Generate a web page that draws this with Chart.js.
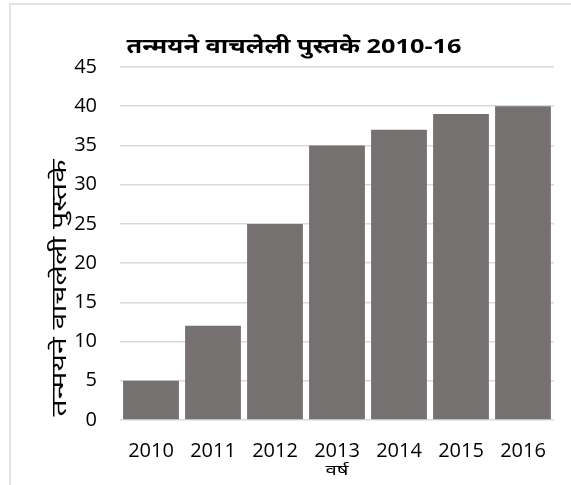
<!DOCTYPE html>
<html>
<head>
<meta charset="utf-8">
<script src="https://cdn.jsdelivr.net/npm/chart.js@4/dist/chart.umd.min.js"></script>
<style>
  html, body { margin: 0; padding: 0; background: #ffffff; }
  #wrap { width: 571px; height: 485px; }
</style>
</head>
<body>
<div id="wrap"><canvas id="c" width="571" height="485"></canvas></div>
<script>
const years = ['2010', '2011', '2012', '2013', '2014', '2015', '2016'];
const booksRead = [5, 12, 25, 35, 37, 39, 40];
const chartTitle = 'तन्मयने वाचलेली पुस्तके 2010-16';
const yAxisTitle = 'तन्मयने वाचलेली पुस्तके';
const xAxisTitle = 'वर्ष';

const FONT = '"Open Sans", "Noto Sans", "Noto Sans Devanagari", sans-serif';

// Draws a text string centred at (x, y), stretched horizontally to a given width
function fitText(ctx, text, x, y, width) {
  const w = ctx.measureText(text).width;
  ctx.save();
  ctx.translate(x, y);
  ctx.scale(width / w, 1);
  ctx.fillText(text, 0, 0);
  ctx.restore();
}

// Frame, chart title and the two axis titles
const decorations = {
  id: 'decorations',
  beforeDraw(chart) {
    const ctx = chart.ctx;
    ctx.save();
    ctx.strokeStyle = '#d9d9d9';
    ctx.lineWidth = 1.5;
    ctx.beginPath();
    ctx.moveTo(10, 485);
    ctx.lineTo(10, 4);
    ctx.lineTo(571, 4);
    ctx.stroke();
    ctx.restore();
  },
  afterDraw(chart) {
    const ctx = chart.ctx;
    const area = chart.chartArea;
    ctx.save();
    ctx.fillStyle = '#000000';
    ctx.textAlign = 'center';
    ctx.textBaseline = 'middle';

    ctx.font = 'bold 20px ' + FONT;
    fitText(ctx, chartTitle, 294, 47, 335);

    ctx.font = '15px ' + FONT;
    fitText(ctx, xAxisTitle, (area.left + area.right) / 2, 471, 23);

    ctx.translate(60, 288);
    ctx.rotate(-Math.PI / 2);
    ctx.font = '21px ' + FONT;
    fitText(ctx, yAxisTitle, 0, 0, 257);
    ctx.restore();
  }
};

new Chart(document.getElementById('c'), {
  type: 'bar',
  data: {
    labels: years,
    datasets: [{
      data: booksRead,
      backgroundColor: '#767171',
      borderWidth: 0,
      barPercentage: 0.9,
      categoryPercentage: 1.0
    }]
  },
  options: {
    responsive: false,
    animation: false,
    layout: { padding: { top: 67, right: 17, left: 0, bottom: 0 } },
    plugins: {
      legend: { display: false },
      title: { display: false },
      tooltip: { enabled: false }
    },
    scales: {
      x: {
        grid: { display: false, drawTicks: false },
        border: { display: false },
        ticks: { color: '#000000', font: { family: FONT, size: 20 }, padding: 19, maxRotation: 0 },
        afterFit(scale) { scale.height = 65; }
      },
      y: {
        min: 0,
        max: 45,
        grid: { color: '#d9d9d9', lineWidth: 1.5, drawTicks: false },
        border: { display: false },
        ticks: { stepSize: 5, color: '#000000', font: { family: FONT, size: 20 }, padding: 23 },
        afterFit(scale) { scale.width = 120; }
      }
    }
  },
  plugins: [decorations]
});
</script>
</body>
</html>
